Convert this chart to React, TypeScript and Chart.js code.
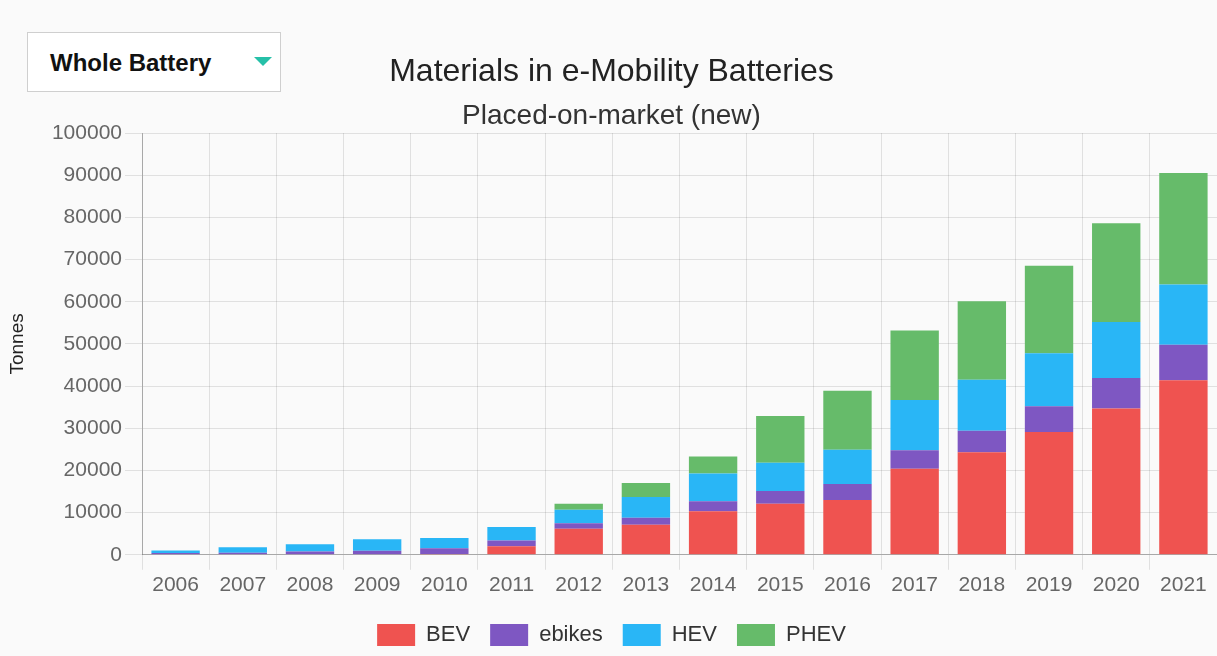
import React, { useEffect, useRef } from "react";
import { Chart, registerables } from "chart.js";

Chart.register(...registerables);

const YEARS = ["2006", "2007", "2008", "2009", "2010", "2011", "2012", "2013", "2014", "2015", "2016", "2017", "2018", "2019", "2020", "2021"];
const BEV = [0, 0, 0, 0, 200, 2000, 6200, 7100, 10300, 12100, 13000, 20400, 24300, 29100, 34700, 41400];
const EBIKES = [400, 500, 800, 950, 1350, 1400, 1300, 1700, 2400, 3000, 3800, 4400, 5100, 6100, 7200, 8400];
const HEV = [600, 1300, 1700, 2750, 2450, 3200, 3200, 4900, 6600, 6700, 8100, 11900, 12100, 12600, 13300, 14300];
const PHEV = [0, 0, 0, 0, 0, 0, 1400, 3300, 4000, 11100, 14000, 16500, 18600, 20700, 23400, 26400];
const Y_TICKS = [0, 10000, 20000, 30000, 40000, 50000, 60000, 70000, 80000, 90000, 100000];

const FONT = "'Liberation Sans', Arial, Helvetica, sans-serif";

export default function App() {
  const ref = useRef<HTMLCanvasElement | null>(null);

  useEffect(() => {
    document.body.style.margin = "0";
    const canvas = ref.current;
    if (!canvas) return;
    const chart = new Chart(canvas, {
      type: "bar",
      data: {
        labels: YEARS,
        datasets: [
          { label: "BEV", data: BEV, backgroundColor: "#ef5350" },
          { label: "ebikes", data: EBIKES, backgroundColor: "#7e57c2" },
          { label: "HEV", data: HEV, backgroundColor: "#29b6f6" },
          { label: "PHEV", data: PHEV, backgroundColor: "#66bb6a" },
        ],
      },
      options: {
        responsive: false,
        animation: false,
        devicePixelRatio: 1,
        layout: { padding: { left: 6, right: 9, top: 0, bottom: 0 } },
        plugins: {
          title: {
            display: true,
            text: "Materials in e-Mobility Batteries",
            color: "#222",
            font: { family: FONT, size: 32, weight: "normal" },
            padding: { top: 53, bottom: 8 },
          },
          subtitle: {
            display: true,
            text: "Placed-on-market (new)",
            color: "#333",
            font: { family: FONT, size: 28, weight: "normal" },
            padding: { top: 0, bottom: 0 },
          },
          legend: {
            position: "bottom",
            labels: {
              boxWidth: 38,
              boxHeight: 22,
              padding: 20,
              color: "#333",
              font: { family: FONT, size: 22 },
            },
          },
          tooltip: { enabled: false },
        },
        scales: {
          x: {
            stacked: true,
            afterFit: (scale: any) => {
              scale.height += 3;
            },
            grid: { color: "rgba(0,0,0,0.1)", tickLength: 15 },
            border: { color: "rgba(0,0,0,0.25)" },
            ticks: { color: "#666", font: { family: FONT, size: 21 }, padding: 3, maxRotation: 0 },
          },
          y: {
            stacked: true,
            min: 0,
            max: 100000,
            afterFit: (scale: any) => {
              scale.width = 136;
            },
            afterBuildTicks: (scale: any) => {
              scale.ticks = Y_TICKS.map((v) => ({ value: v }));
            },
            grid: { color: "rgba(0,0,0,0.1)", tickLength: 17 },
            border: { color: "rgba(0,0,0,0.25)" },
            ticks: {
              color: "#666",
              font: { family: FONT, size: 21 },
              padding: 3,
              callback: (v: any) => String(v),
            },
            title: {
              display: true,
              text: "Tonnes",
              color: "#222",
              font: { family: FONT, size: 19 },
              padding: 0,
            },
          },
        },
      },
    });
    return () => chart.destroy();
  }, []);

  return (
    <div style={{ position: "fixed", left: 0, top: 0, width: 1217, height: 656, overflow: "hidden", background: "#fafafa" }}>
      <canvas ref={ref} width={1226} height={656} style={{ display: "block" }} />
      <div
        style={{
          position: "absolute",
          left: 27,
          top: 32,
          width: 254,
          height: 60,
          boxSizing: "border-box",
          border: "1px solid #cfcfcf",
          background: "#fff",
          fontFamily: FONT,
          fontWeight: "bold",
          fontSize: 24,
          color: "#111",
        }}
      >
        <span style={{ position: "absolute", left: 22, top: 16 }}>Whole Battery</span>
        <span
          style={{
            position: "absolute",
            left: 226,
            top: 24,
            width: 0,
            height: 0,
            borderLeft: "9px solid transparent",
            borderRight: "9px solid transparent",
            borderTop: "9px solid #26c0a8",
          }}
        />
      </div>
    </div>
  );
}
